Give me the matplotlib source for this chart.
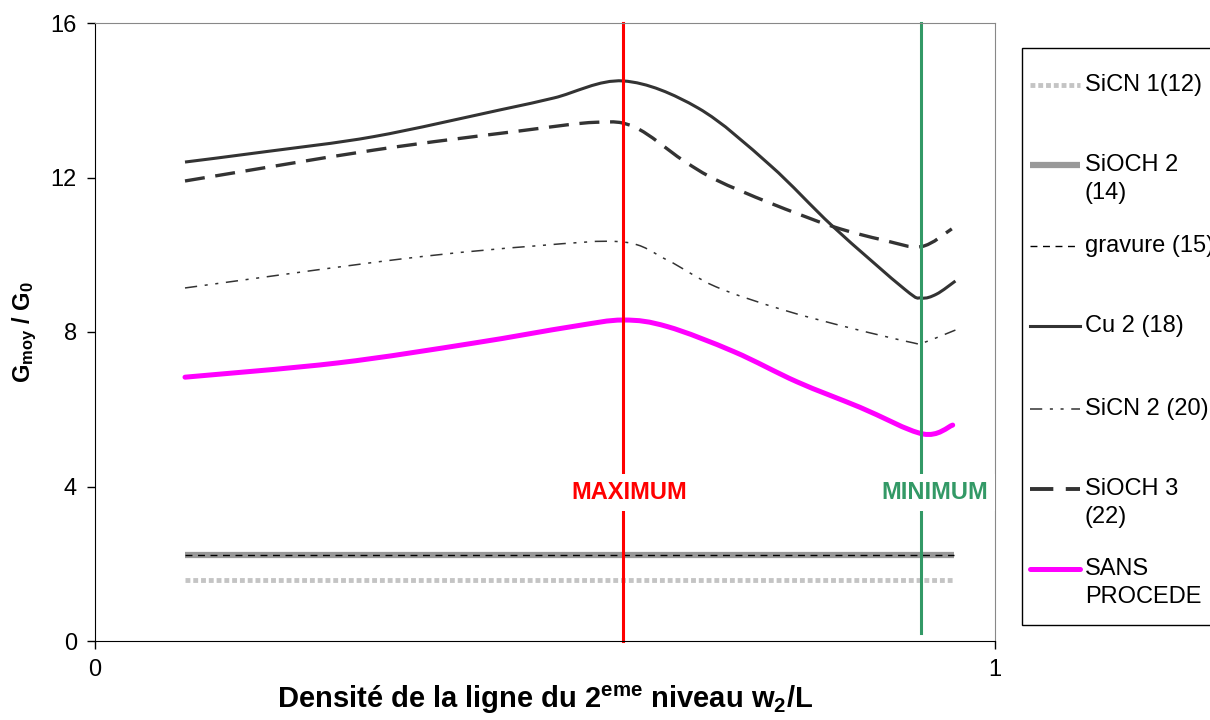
import numpy as np
import matplotlib
matplotlib.use('Agg')
import matplotlib.pyplot as plt
from matplotlib.lines import Line2D
from matplotlib.patches import Rectangle, PathPatch
from matplotlib.path import Path

plt.rcParams['font.family'] = ['Liberation Sans', 'DejaVu Sans']
plt.rcParams['mathtext.fontset'] = 'custom'
plt.rcParams['mathtext.rm'] = 'Liberation Sans:bold'
plt.rcParams['mathtext.it'] = 'Liberation Sans:bold'
plt.rcParams['mathtext.bf'] = 'Liberation Sans:bold'
plt.rcParams['mathtext.default'] = 'rm'

# data
flat_x = [0.10, 0.955]
sicn1_y = [1.59, 1.59]
sioch2_y = [2.22, 2.22]
gravure_y = [2.22, 2.22]

cu2_x = [0.10, 0.19, 0.31, 0.45, 0.51, 0.587, 0.67, 0.75, 0.82, 0.90, 0.918, 0.935, 0.956]
cu2_y = [12.40, 12.67, 13.06, 13.75, 14.06, 14.50, 13.80, 12.32, 10.73, 9.10, 8.88, 8.98, 9.32]

sicn2_x = [0.10, 0.34, 0.49, 0.587, 0.636, 0.69, 0.765, 0.84, 0.909, 0.92, 0.956]
sicn2_y = [9.14, 9.89, 10.23, 10.33, 9.86, 9.17, 8.57, 8.10, 7.72, 7.72, 8.05]

sioch3_x = [0.10, 0.31, 0.47, 0.557, 0.60, 0.653, 0.69, 0.75, 0.82, 0.876, 0.918, 0.952]
sioch3_y = [11.91, 12.71, 13.20, 13.43, 13.30, 12.45, 11.94, 11.34, 10.73, 10.38, 10.21, 10.67]

sans_x = [0.10, 0.27, 0.42, 0.53, 0.587, 0.636, 0.71, 0.78, 0.85, 0.92, 0.953]
sans_y = [6.83, 7.20, 7.71, 8.14, 8.31, 8.14, 7.49, 6.71, 6.05, 5.36, 5.59]

max_x = 0.587
min_x = 0.918
x_ticks = [0, 1]
y_ticks = [0, 4, 8, 12, 16]

W, H = 1210, 720
fs = 17


def smooth_path(xs, ys):
    # Bezier path through the points (like a smoothed Excel line)
    p = np.column_stack([xs, ys]).astype(float)
    n = len(p)
    verts = [p[0]]
    codes = [Path.MOVETO]
    for i in range(n - 1):
        p0 = p[i - 1] if i > 0 else p[i]
        p3 = p[i + 2] if i + 2 < n else p[i + 1]
        c1 = p[i] + (p[i + 1] - p0) / 6
        c2 = p[i + 1] - (p3 - p[i]) / 6
        verts += [c1, c2, p[i + 1]]
        codes += [Path.CURVE4] * 3
    return Path(verts, codes)


def smooth_line(ax, xs, ys, **kw):
    ax.add_patch(PathPatch(smooth_path(xs, ys), fill=False, **kw))


fig = plt.figure(figsize=(W / 100, H / 100), dpi=100)
ax = fig.add_axes([95 / W, 1 - 641 / H, 900 / W, 618 / H])

dark = '#333333'
ax.plot(flat_x, sicn1_y, color='#c4c4c4', lw=3.5, ls=(0, (1, 0.6)), solid_capstyle='butt')
ax.plot(flat_x, sioch2_y, color='#999999', lw=4.5, solid_capstyle='butt')
ax.plot(flat_x, gravure_y, color='black', lw=1.0, ls=(0, (5, 4)))
smooth_line(ax, cu2_x, cu2_y, ec=dark, lw=2.2, joinstyle='round')
smooth_line(ax, sicn2_x, sicn2_y, ec=dark, lw=1.1, ls=(0, (8, 5, 2, 5, 2, 5)))
smooth_line(ax, sioch3_x, sioch3_y, ec=dark, lw=2.4, ls=(0, (6, 3.2)))
smooth_line(ax, sans_x, sans_y, ec='#ff00ff', lw=3.6, joinstyle='round', capstyle='round')

ax.plot([max_x, max_x], [0, 16], color='#ff0000', lw=2.2, clip_on=False)
ax.plot([min_x, min_x], [0.22, 16], color='#339966', lw=2.2, clip_on=False)

ax.text(0.594, 3.85, 'MAXIMUM', color='#ff0000', fontsize=fs, fontweight='bold',
        ha='center', va='center', zorder=5,
        bbox=dict(boxstyle='square,pad=0.3', fc='white', ec='none'))
ax.text(0.933, 3.85, 'MINIMUM', color='#339966', fontsize=fs, fontweight='bold',
        ha='center', va='center', zorder=5, clip_on=False,
        bbox=dict(boxstyle='square,pad=0.3', fc='white', ec='none'))

ax.set_xlim(0, 1)
ax.set_ylim(0, 16)
ax.set_xticks(x_ticks)
ax.set_yticks(y_ticks)
ax.tick_params(labelsize=fs, length=6, width=1, direction='out', pad=7)
for s in ['left', 'bottom']:
    ax.spines[s].set_color('black')
for s in ['top', 'right']:
    ax.spines[s].set_color('#888888')
ax.spines['right'].set_zorder(1)

ax.set_xlabel(r'Densité de la ligne du 2$^{eme}$ niveau w$_2$/L', fontsize=21, fontweight='bold', labelpad=2)
ax.set_ylabel(r'G$_{moy}$ / G$_0$', fontsize=fs, fontweight='bold', labelpad=8)


def fx(px):
    return px / W


def fy(py):
    return 1 - py / H


# legend box, partly cut by the right edge as in the reference
fig.add_artist(Rectangle((fx(1022), fy(625)), fx(1300) - fx(1022), fy(48) - fy(625),
                         transform=fig.transFigure, fc='white', ec='black', lw=1))

legend_items = [
    ('SiCN 1(12)', None, 85, dict(color='#c4c4c4', lw=3.5, ls=(0, (1, 0.6)), solid_capstyle='butt')),
    ('SiOCH 2', '(14)', 165, dict(color='#999999', lw=4.5, solid_capstyle='butt')),
    ('gravure (15)', None, 246, dict(color='black', lw=1.0, ls=(0, (5, 4)))),
    ('Cu 2 (18)', None, 326, dict(color=dark, lw=2.2)),
    ('SiCN 2 (20)', None, 409, dict(color=dark, lw=1.1, ls=(0, (8, 5, 2, 5, 2, 5)))),
    ('SiOCH 3', '(22)', 489, dict(color=dark, lw=2.8, ls=(0, (6, 3.2)))),
    ('SANS', 'PROCEDE', 569, dict(color='#ff00ff', lw=3.6, solid_capstyle='round')),
]
for label, label2, py, style in legend_items:
    fig.add_artist(Line2D([fx(1030), fx(1080)], [fy(py), fy(py)], transform=fig.transFigure, **style))
    fig.text(fx(1085), fy(py), label, fontsize=fs, ha='left', va='center')
    if label2:
        fig.text(fx(1085), fy(py + 28), label2, fontsize=fs, ha='left', va='center')

plt.savefig('out.png', dpi=100)
